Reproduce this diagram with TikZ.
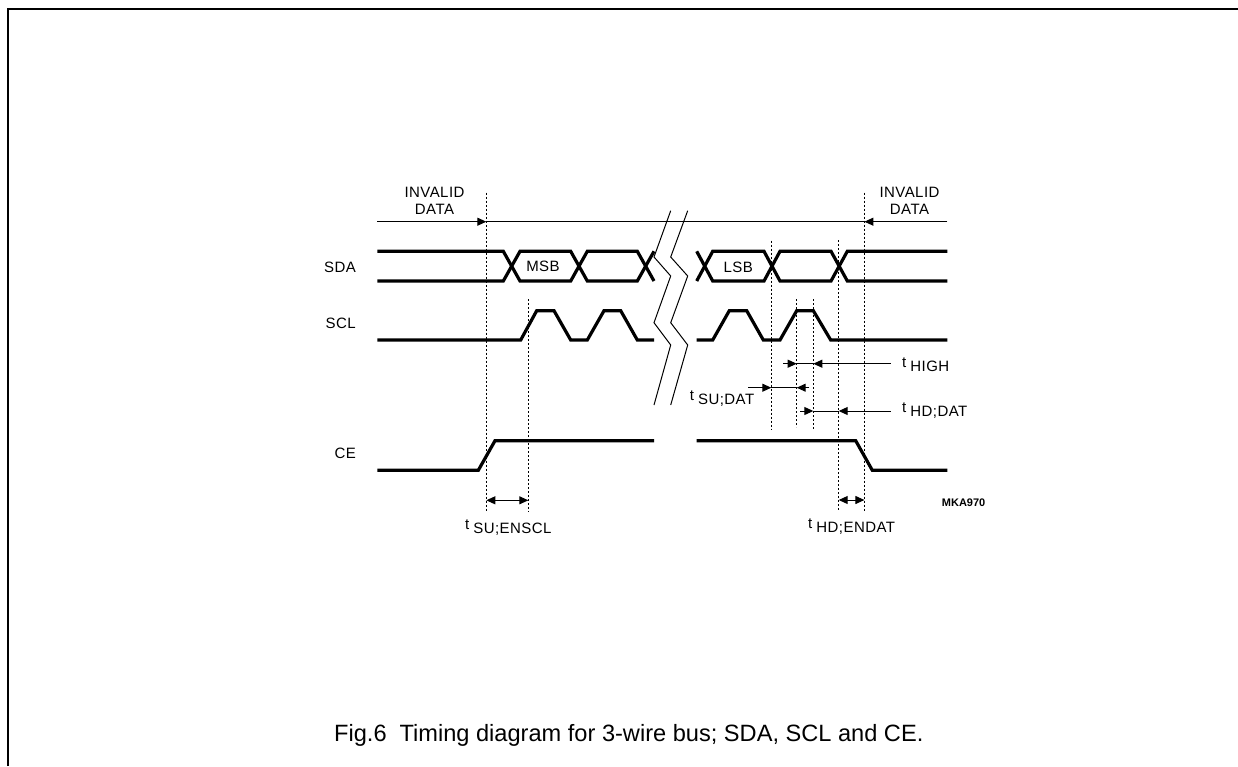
\documentclass[tikz,border=0pt]{standalone}
\usepackage{fontspec}
\setmainfont{Liberation Sans}
\newfontfamily\labelfont[LetterSpace=3]{Liberation Sans}
\usetikzlibrary{arrows.meta}
\tikzset{
  wave/.style={line width=3.2pt},
  fine/.style={line width=1pt},
  guide/.style={line width=1.1pt, dash pattern=on 2pt off 2pt},
  tipped/.style={fine, -{Triangle[length=9pt,width=8pt]}},
  both tips/.style={fine, {Triangle[length=9pt,width=8pt]}-{Triangle[length=9pt,width=8pt]}},
  lbl/.style={font=\labelfont\fontsize{15}{16.5}\selectfont, inner sep=0pt},
  tlbl/.style={lbl, anchor=base west},
  sideline/.style={lbl, anchor=east}
}
\newcommand{\tname}[1]{t\hspace{4pt}\raisebox{-4.5pt}{#1}}
\begin{document}
\begin{tikzpicture}[x=1pt,y=-1pt]
    \useasboundingbox (0,0) rectangle (1238,766);

    % Define Coordinates
    \coordinate (FA) at (8,766);
    \coordinate (FB) at (1238,9);
    \coordinate (BusL) at (377.3,221.7);
    \coordinate (BusR) at (947.3,221.7);

    % 1. Draw the Frame
    \draw[line width=1.2pt] (FA) |- (FB);

    % 2. Draw the Guide Lines
    \coordinate (G1a) at (486.3,192.7);  \coordinate (G1b) at (486.3,511.7);
    \coordinate (G2a) at (528.3,299);    \coordinate (G2b) at (528.3,511.7);
    \coordinate (G3a) at (771.3,240.7);  \coordinate (G3b) at (771.3,429.3);
    \coordinate (G4a) at (796.7,299.3);  \coordinate (G4b) at (796.7,427.3);
    \coordinate (G5a) at (813.3,299.3);  \coordinate (G5b) at (813.3,429.3);
    \coordinate (G6a) at (838.7,240);    \coordinate (G6b) at (838.7,510);
    \coordinate (G7a) at (864.4,192.7);  \coordinate (G7b) at (864.4,511.7);
    \draw[guide] (G1a) -- (G1b);
    \draw[guide] (G2a) -- (G2b);
    \draw[guide] (G3a) -- (G3b);
    \draw[guide] (G4a) -- (G4b);
    \draw[guide] (G5a) -- (G5b);
    \draw[guide] (G6a) -- (G6b);
    \draw[guide] (G7a) -- (G7b);

    % 3. Invalid Data Line
    \coordinate (BusA) at (486.3,221.7);
    \coordinate (BusB) at (864.4,221.7);
    \draw[fine] (BusA) -- (BusB);
    \draw[tipped] (BusL) -- (BusA);
    \draw[tipped] (BusR) -- (BusB);

    % 4. Draw the SDA Wave (left, then right of the break)
    \draw[wave] (377.3,251.3) -- (503.3,251.3) -- (520,281) -- (570.7,281) -- (587.3,251.3)
                -- (637.3,251.3) -- (654,281);
    \draw[wave] (377.3,281) -- (503.3,281) -- (520,251.3) -- (570.7,251.3) -- (587.3,281)
                -- (637.3,281) -- (654,251.3);
    \draw[wave] (696.7,251.3) -- (712.7,281) -- (764,281) -- (780,251.3) -- (831,251.3)
                -- (847.3,281) -- (947.3,281);
    \draw[wave] (696.7,281) -- (712.7,251.3) -- (764,251.3) -- (780,281) -- (831,281)
                -- (847.3,251.3) -- (947.3,251.3);

    % 5. Draw the SCL Wave
    \draw[wave] (377.3,340) -- (520.7,340) -- (536.7,310.7) -- (554,310.7) -- (570.7,340)
                -- (587.3,340) -- (604,310.7) -- (620.7,310.7) -- (637.3,340) -- (654,340);
    \draw[wave] (696.7,340) -- (712.7,340) -- (729.3,310.7) -- (746.7,310.7) -- (763.3,340)
                -- (780,340) -- (796.7,310.7) -- (813.3,310.7) -- (830.7,340) -- (947.3,340);

    % 6. Draw the CE Wave
    \draw[wave] (377.3,470.3) -- (478.3,470.3) -- (495,440.7) -- (654,440.7);
    \draw[wave] (696.7,440.7) -- (855.7,440.7) -- (872.3,470.3) -- (947.3,470.3);

    % 7. Draw the Break Marks
    \draw[fine] (670.7,210.7) -- (654,257) -- (670.7,276) -- (654,322.7) -- (670.7,345) -- (654,405);
    \draw[fine] (687.7,210.7) -- (670.7,257) -- (687.7,276) -- (670.7,322.7) -- (687.7,345) -- (670.7,405);

    % 8. Draw the Time Arrows
    \coordinate (HighL) at (783.3,363.7);  \coordinate (HighA) at (796.7,363.7);
    \coordinate (HighB) at (813.3,363.7);  \coordinate (HighR) at (890.7,363.7);
    \draw[fine] (HighA) -- (HighB);
    \draw[tipped] (HighL) -- (HighA);
    \draw[tipped] (HighR) -- (HighB);

    \coordinate (SuL) at (748.3,387.7);  \coordinate (SuA) at (771.3,387.7);
    \coordinate (SuB) at (796.7,387.7);  \coordinate (SuR) at (809.3,387.7);
    \draw[fine] (SuA) -- (SuB);
    \draw[tipped] (SuL) -- (SuA);
    \draw[tipped] (SuR) -- (SuB);

    \coordinate (HdL) at (800.3,411);  \coordinate (HdA) at (813.3,411);
    \coordinate (HdB) at (838.7,411);  \coordinate (HdR) at (890.7,411);
    \draw[fine] (HdA) -- (HdB);
    \draw[tipped] (HdL) -- (HdA);
    \draw[tipped] (HdR) -- (HdB);

    \coordinate (EnA) at (486.3,500.3);  \coordinate (EnB) at (528.3,500.3);
    \draw[both tips] (EnA) -- (EnB);
    \coordinate (EdA) at (838.7,500);  \coordinate (EdB) at (864.4,500);
    \draw[both tips] (EdA) -- (EdB);

    % 9. Add Labels
    \node[lbl, align=center] (invalidL) at (434.5,201) {INVALID\\DATA};
    \node[lbl, align=center] (invalidR) at (909.5,201) {INVALID\\DATA};
    \node[sideline] (sda) at (356,267) {SDA};
    \node[sideline] (scl) at (356,323.5) {SCL};
    \node[sideline] (ce) at (356,453) {CE};
    \node[lbl] (msb) at (543,266.7) {MSB};
    \node[lbl] (lsb) at (738.3,267) {LSB};
    \node[tlbl] (thigh) at (902,367) {\tname{HIGH}};
    \node[tlbl] (tsudat) at (689.7,400) {\tname{SU;DAT}};
    \node[tlbl] (thddat) at (902,412) {\tname{HD;DAT}};
    \node[tlbl] (tsuenscl) at (465,529) {\tname{SU;ENSCL}};
    \node[tlbl] (thdendat) at (808,528) {\tname{HD;ENDAT}};
    \node[inner sep=0pt, anchor=base west, font=\bfseries\fontsize{11}{12}\selectfont] (code) at (941.7,506) {MKA970};
    \node[inner sep=0pt, anchor=base west, font=\fontsize{23.6}{26}\selectfont] (caption) at (334,741)
        {Fig.6\hspace{0.55em}Timing diagram for 3-wire bus; SDA, SCL and CE.};
\end{tikzpicture}
\end{document}
